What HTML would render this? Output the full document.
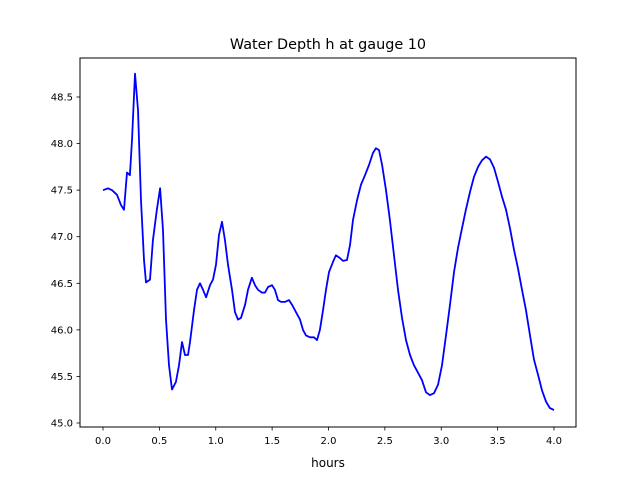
<!DOCTYPE html>
<html><head><meta charset="utf-8"><style>
html,body{margin:0;padding:0;background:#fff;}
svg text{font-family:"DejaVu Sans","Liberation Sans",sans-serif;fill:#000;}
</style></head><body>
<svg id="chart" width="640" height="480" xmlns="http://www.w3.org/2000/svg">
<text x="328" y="49" font-size="14.4" text-anchor="middle">Water Depth h at gauge 10</text>
<text x="328" y="467" font-size="12" text-anchor="middle">hours</text>
<g id="plot"></g>
<rect x="80" y="58" width="496" height="369" fill="none" stroke="#000" stroke-width="1"/>
</svg>
<script>
const hours=[0,.044,.080,.124,.160,.186,.213,.239,.257,.284,.310,.337,.364,.381,.417,.443,.479,.506,.532,.559,.585,.612,.647,.674,.701,.727,.754,.772,.807,.834,.860,.887,.914,.949,.976,1.002,1.029,1.055,1.082,1.109,1.144,1.171,1.197,1.224,1.260,1.286,1.321,1.348,1.375,1.410,1.437,1.463,1.499,1.525,1.552,1.579,1.614,1.650,1.676,1.712,1.747,1.774,1.800,1.836,1.871,1.898,1.924,1.951,1.978,2.004,2.040,2.066,2.102,2.129,2.164,2.191,2.217,2.253,2.288,2.324,2.359,2.395,2.421,2.448,2.475,2.510,2.545,2.581,2.616,2.652,2.687,2.723,2.758,2.794,2.829,2.865,2.900,2.936,2.971,3.007,3.042,3.078,3.113,3.149,3.184,3.219,3.255,3.290,3.326,3.361,3.397,3.432,3.468,3.503,3.539,3.574,3.610,3.645,3.681,3.716,3.752,3.787,3.823,3.858,3.894,3.929,3.964,4.0];
const depth=[47.50,47.52,47.50,47.45,47.34,47.29,47.69,47.66,48.04,48.75,48.36,47.39,46.75,46.51,46.54,46.96,47.30,47.52,47.07,46.11,45.62,45.36,45.44,45.62,45.87,45.73,45.73,45.87,46.21,46.43,46.50,46.43,46.35,46.48,46.54,46.70,47.02,47.16,46.96,46.70,46.43,46.19,46.11,46.13,46.27,46.43,46.56,46.48,46.43,46.40,46.40,46.46,46.48,46.43,46.32,46.30,46.30,46.32,46.27,46.19,46.11,46.00,45.94,45.92,45.92,45.89,46.00,46.21,46.43,46.62,46.73,46.80,46.77,46.74,46.75,46.91,47.18,47.39,47.56,47.66,47.77,47.90,47.95,47.93,47.77,47.50,47.18,46.80,46.43,46.13,45.89,45.73,45.62,45.54,45.46,45.33,45.30,45.32,45.41,45.62,45.94,46.27,46.62,46.88,47.09,47.29,47.48,47.64,47.75,47.82,47.86,47.83,47.74,47.59,47.43,47.29,47.09,46.86,46.66,46.43,46.21,45.94,45.68,45.52,45.35,45.23,45.16,45.14];
const xTicks=[0,0.5,1.0,1.5,2.0,2.5,3.0,3.5,4.0];
const yTicks=[45.0,45.5,46.0,46.5,47.0,47.5,48.0,48.5];
const NS="http://www.w3.org/2000/svg";
function xs(v){return 103+v*112.75;}
function ys(v){return 423-(v-45)*93.14;}
const g=document.getElementById('plot');
function mk(tag,attrs){const e=document.createElementNS(NS,tag);for(const k in attrs)e.setAttribute(k,attrs[k]);g.appendChild(e);return e;}
xTicks.forEach(t=>{
  const l=mk('line',{x1:xs(t),x2:xs(t),y1:427,y2:430.5,stroke:'#000','stroke-width':0.8});
  
  
  const tx=mk('text',{x:xs(t),y:444,'font-size':10,'text-anchor':'middle'});
  tx.textContent=t.toFixed(1);
  
  
});
yTicks.forEach(t=>{
  const l=mk('line',{x1:76.5,x2:80,y1:ys(t),y2:ys(t),stroke:'#000','stroke-width':0.8});
  
  
  const tx=mk('text',{x:73,y:ys(t)+3.5,'font-size':10,'text-anchor':'end'});
  tx.textContent=t.toFixed(1);
  
  
});
let d='';
hours.forEach((h,i)=>{d+=(i?'L':'M')+xs(h).toFixed(1)+','+ys(depth[i]).toFixed(1);});
const p=mk('path',{d:d,fill:'none',stroke:'#0000ff','stroke-width':1.8,'stroke-linejoin':'round'});


</script>
</body></html>
